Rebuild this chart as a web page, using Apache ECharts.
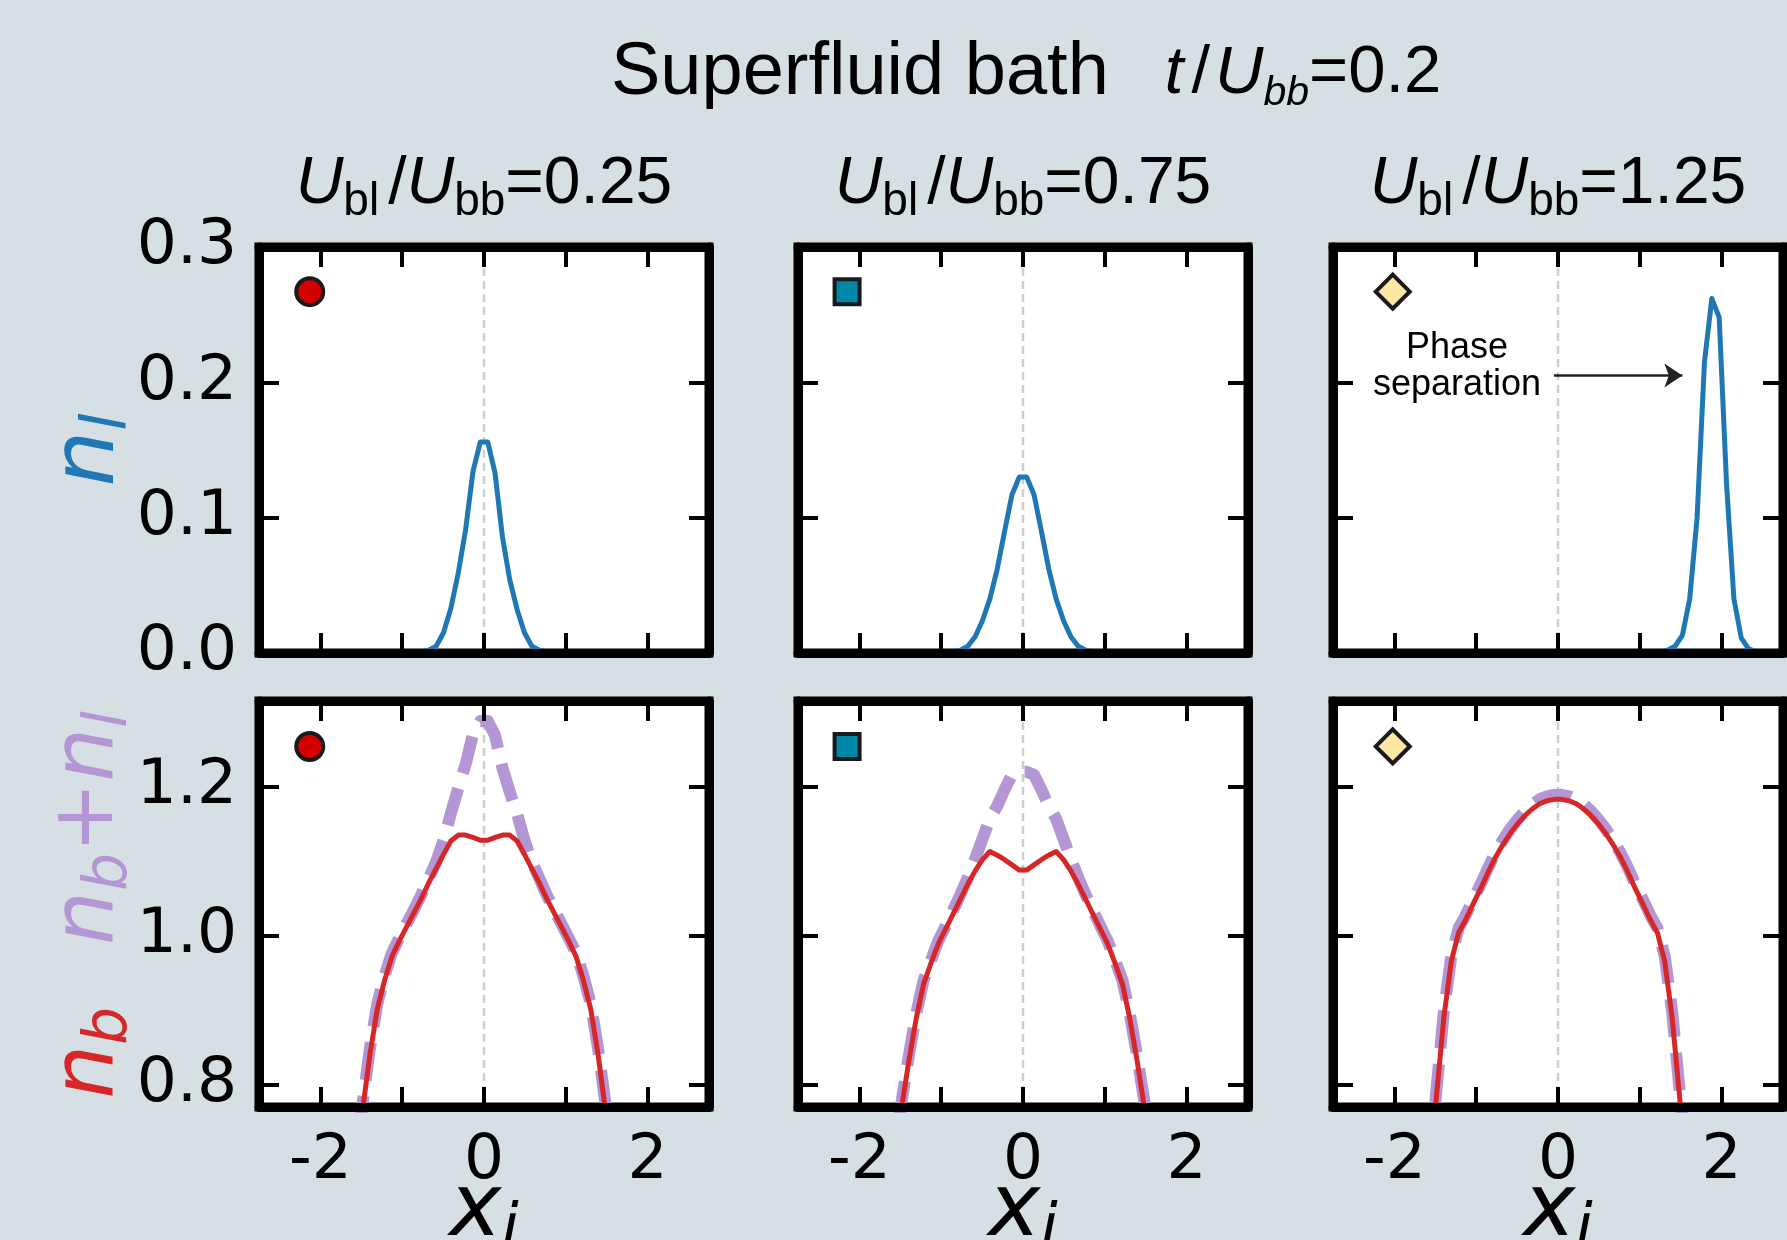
<!DOCTYPE html>
<html>
<head>
<meta charset="utf-8">
<script src="https://cdn.jsdelivr.net/npm/echarts@6.0.0/dist/echarts.min.js"></script>
<style>
  html, body { margin: 0; padding: 0; background: #d6dfe4; }
  #chart { width: 1787px; height: 1240px; }
</style>
</head>
<body>
<div id="chart"></div>
<script>
// lattice positions used for the density profiles
const xSites = [-1.665, -1.575, -1.485, -1.395, -1.305, -1.215, -1.125, -1.035, -0.945, -0.855,
  -0.765, -0.675, -0.585, -0.495, -0.405, -0.315, -0.225, -0.135, -0.045,
  0.045, 0.135, 0.225, 0.315, 0.405, 0.495, 0.585, 0.675, 0.765,
  0.855, 0.945, 1.035, 1.125, 1.215, 1.305, 1.395, 1.485, 1.575, 1.665];

// n_l (impurity density)
const nl025 = [0, 0, 0, 0, 0, 0, 0, 0, 0, 0,
  0.001, 0.002, 0.005, 0.015, 0.033, 0.059, 0.091, 0.134, 0.156,
  0.156, 0.133, 0.086, 0.054, 0.032, 0.015, 0.005, 0.002, 0.001,
  0, 0, 0, 0, 0, 0, 0, 0, 0, 0];
const nl075 = [0, 0, 0, 0, 0, 0, 0, 0, 0, 0.001,
  0.002, 0.005, 0.012, 0.024, 0.040, 0.062, 0.090, 0.117, 0.130,
  0.130, 0.117, 0.090, 0.062, 0.040, 0.024, 0.012, 0.005, 0.002,
  0.001, 0, 0, 0, 0, 0, 0, 0, 0, 0];
const x125 = [1.25, 1.34, 1.43, 1.52, 1.61, 1.70, 1.79, 1.88, 1.97, 2.06, 2.15, 2.24, 2.33, 2.42];
const nl125 = [0.001, 0.002, 0.005, 0.013, 0.040, 0.100, 0.215, 0.262, 0.248, 0.125, 0.040, 0.011, 0.003, 0.001];

// n_b (bath density)
const nb025 = [0.58, 0.68, 0.765, 0.840, 0.901, 0.940, 0.972, 0.993, 1.012, 1.031,
  1.050, 1.071, 1.090, 1.109, 1.127, 1.135, 1.135, 1.132, 1.128,
  1.128, 1.132, 1.135, 1.135, 1.127, 1.109, 1.090, 1.071, 1.050,
  1.031, 1.012, 0.993, 0.972, 0.940, 0.901, 0.840, 0.765, 0.68, 0.58];
const nb075 = [0.60, 0.69, 0.768, 0.832, 0.889, 0.935, 0.963, 0.989, 1.009, 1.029,
  1.049, 1.069, 1.087, 1.102, 1.113, 1.108, 1.102, 1.095, 1.088,
  1.088, 1.095, 1.102, 1.108, 1.113, 1.102, 1.087, 1.069, 1.049,
  1.029, 1.009, 0.989, 0.963, 0.935, 0.889, 0.832, 0.768, 0.69, 0.60];
const nb125 = [0.55, 0.67, 0.785, 0.890, 0.965, 1.004, 1.022, 1.043, 1.063, 1.085,
  1.105, 1.122, 1.137, 1.150, 1.161, 1.170, 1.177, 1.181, 1.183,
  1.183, 1.181, 1.177, 1.170, 1.161, 1.150, 1.137, 1.122, 1.105,
  1.085, 1.063, 1.043, 1.022, 1.004, 0.965, 0.890, 0.785, 0.67, 0.55];

// n_b + n_l (total density)
const ntot025 = [0.59, 0.69, 0.774, 0.848, 0.908, 0.946, 0.977, 0.997, 1.016, 1.035,
  1.055, 1.077, 1.099, 1.128, 1.164, 1.198, 1.230, 1.270, 1.288,
  1.288, 1.269, 1.225, 1.193, 1.163, 1.128, 1.099, 1.077, 1.055,
  1.035, 1.016, 0.997, 0.977, 0.946, 0.908, 0.848, 0.774, 0.69, 0.59];
const ntot075 = [0.61, 0.70, 0.776, 0.839, 0.895, 0.940, 0.967, 0.993, 1.013, 1.034,
  1.055, 1.078, 1.103, 1.130, 1.157, 1.174, 1.196, 1.216, 1.220,
  1.220, 1.216, 1.196, 1.174, 1.157, 1.130, 1.103, 1.078, 1.055,
  1.034, 1.013, 0.993, 0.967, 0.940, 0.895, 0.839, 0.776, 0.70, 0.61];
const ntot125 = [0.56, 0.68, 0.794, 0.898, 0.972, 1.010, 1.028, 1.049, 1.069, 1.091,
  1.111, 1.128, 1.143, 1.156, 1.167, 1.176, 1.183, 1.187, 1.189,
  1.189, 1.187, 1.183, 1.176, 1.167, 1.156, 1.143, 1.128, 1.111,
  1.091, 1.069, 1.049, 1.028, 1.010, 0.972, 0.898, 0.794, 0.68, 0.56];

const ratios = ['0.25', '0.75', '1.25'];
const xRange = [-2.75, 2.75];
const nlRange = [0, 0.3];
const nbRange = [0.77, 1.315];
const xTicks = [-2, -1, 0, 1, 2];
const xTickLabels = [-2, 0, 2];
const nlTicks = [0, 0.1, 0.2, 0.3];
const nbTicks = [0.8, 1.0, 1.2];
const markerX = [-2.13, -2.15, -2.02];
const markerYTop = 0.267;
const markerYBottom = 1.254;
const arrowFrom = [-0.05, 0.205];
const arrowTo = [1.52, 0.205];

const nlData = [[xSites, nl025], [xSites, nl075], [x125, nl125]];
const nbData = [nb025, nb075, nb125];
const ntotData = [ntot025, ntot075, ntot125];

const colLeft = [259, 798, 1333];
const rowTop = [247, 701];
const W = 450, H = 406;
const FRAME = 9;
const markerStyle = [
  { symbol: 'circle', size: 27, color: '#d40000' },
  { symbol: 'rect', size: 25, color: '#0088a8' },
  { symbol: 'diamond', size: 34, color: '#fde7a4' }
];

const pairs = (xs, ys) => xs.map((x, i) => [x, ys[i]]);

const grids = [], xAxes = [], yAxes = [], series = [];
for (let r = 0; r < 2; r++) {
  for (let c = 0; c < 3; c++) {
    const g = r * 3 + c;
    const yr = r === 0 ? nlRange : nbRange;
    grids.push({
      left: colLeft[c], top: rowTop[r], width: W, height: H,
      show: true, backgroundColor: '#fff', borderColor: '#000', borderWidth: FRAME,
      outerBoundsMode: 'none'
    });
    ['bottom', 'top'].forEach((pos, k) => {
      xAxes.push({
        type: 'value', gridIndex: g, position: pos, min: xRange[0], max: xRange[1], z: 5,
        axisLine: { show: true, onZero: false, lineStyle: { color: '#000', width: FRAME } },
        axisTick: { show: true, inside: true, length: 20, customValues: xTicks, lineStyle: { color: '#000', width: 4 } },
        axisLabel: {
          show: k === 0 && r === 1, customValues: xTickLabels,
          fontFamily: 'DejaVu Sans', fontSize: 63, color: '#000', margin: 23
        },
        splitLine: { show: false }
      });
    });
    ['left', 'right'].forEach((pos, k) => {
      yAxes.push({
        type: 'value', gridIndex: g, position: pos, min: yr[0], max: yr[1], z: 5,
        axisLine: { show: true, onZero: false, lineStyle: { color: '#000', width: FRAME } },
        axisTick: { show: true, inside: true, length: 20, customValues: r === 0 ? nlTicks : nbTicks, lineStyle: { color: '#000', width: 4 } },
        axisLabel: {
          show: k === 0 && c === 0, customValues: r === 0 ? nlTicks : nbTicks,
          formatter: v => v.toFixed(1),
          fontFamily: 'DejaVu Sans', fontSize: 63, color: '#000', margin: 22
        },
        splitLine: { show: false }
      });
    });

    // dashed guide at x = 0
    series.push({
      type: 'line', xAxisIndex: 2 * g, yAxisIndex: 2 * g, silent: true, z: 1,
      data: [[0, yr[0]], [0, yr[1]]], symbol: 'none',
      lineStyle: { color: '#cfcfcf', width: 2.5, type: [8, 5] }
    });

    if (r === 0) {
      const s = {
        type: 'line', xAxisIndex: 2 * g, yAxisIndex: 2 * g, symbol: 'none', z: 2,
        data: pairs(nlData[c][0], nlData[c][1]),
        lineStyle: { color: '#1f77b4', width: 5, join: 'round' }
      };
      if (c === 2) {
        s.markLine = {
          silent: true, symbol: ['none', 'arrow'], symbolSize: 18,
          itemStyle: { color: '#222' },
          lineStyle: { color: '#222', width: 2.5, type: 'solid' },
          label: { show: false },
          data: [[{ coord: arrowFrom }, { coord: arrowTo }]]
        };
      }
      series.push(s);
    } else {
      series.push({
        type: 'line', xAxisIndex: 2 * g, yAxisIndex: 2 * g, symbol: 'none', z: 2,
        data: pairs(xSites, ntotData[c]),
        lineStyle: { color: '#b396d3', width: 12, type: [38, 16], cap: 'butt', join: 'round' }
      });
      series.push({
        type: 'line', xAxisIndex: 2 * g, yAxisIndex: 2 * g, symbol: 'none', z: 3,
        data: pairs(xSites, nbData[c]),
        lineStyle: { color: '#d62728', width: 5, join: 'round' }
      });
    }

    series.push({
      type: 'scatter', xAxisIndex: 2 * g, yAxisIndex: 2 * g, z: 4, silent: true,
      symbol: markerStyle[c].symbol, symbolSize: markerStyle[c].size,
      itemStyle: { color: markerStyle[c].color, borderColor: '#1a1a1a', borderWidth: 4, opacity: 1 },
      data: [[markerX[c], r === 0 ? markerYTop : markerYBottom]]
    });
  }
}

const LS = 'Liberation Sans';
const DV = 'DejaVu Sans';
const graphics = [];

// main title
graphics.push({
  type: 'text', z: 10, x: 611, y: 74,
  style: {
    text: '{a|Superfluid bath}{sp| }{i|t}{sl|/}{i|U}{s|bb}{m|=0.2}',
    rich: {
      a: { fontFamily: LS, fontSize: 74, lineHeight: 80, verticalAlign: 'middle', fill: '#000' },
      sp: { fontFamily: LS, fontSize: 74, lineHeight: 80, width: 56 },
      i: { fontFamily: LS, fontStyle: 'italic', fontSize: 67, lineHeight: 80, verticalAlign: 'middle', fill: '#000' },
      sl: { fontFamily: LS, fontSize: 67, lineHeight: 80, verticalAlign: 'middle', fill: '#000', padding: [0, 5, 0, 8] },
      m: { fontFamily: LS, fontSize: 67, lineHeight: 80, verticalAlign: 'middle', fill: '#000' },
      s: { fontFamily: LS, fontStyle: 'italic', fontSize: 41, lineHeight: 36, verticalAlign: 'bottom', fill: '#000' }
    },
    align: 'left', verticalAlign: 'middle', textAlign: 'left', textVerticalAlign: 'middle'
  }
});

// panel titles
ratios.forEach((v, c) => {
  graphics.push({
    type: 'text', z: 10, x: colLeft[c] + W / 2, y: 185,
    style: {
      text: '{u|U}{s|bl}{g| }{m|/}{u|U}{s|bb}{m|=' + v + '}',
      rich: {
        u: { fontFamily: LS, fontStyle: 'italic', fontSize: 66, lineHeight: 80, verticalAlign: 'middle', fill: '#000' },
        m: { fontFamily: LS, fontSize: 66, lineHeight: 80, verticalAlign: 'middle', fill: '#000' },
        s: { fontFamily: LS, fontSize: 46, lineHeight: 39, verticalAlign: 'bottom', fill: '#000' },
        g: { fontFamily: LS, fontSize: 46, lineHeight: 39, width: 9 }
      },
      align: 'center', verticalAlign: 'middle', textAlign: 'center', textVerticalAlign: 'middle'
    }
  });
  // x axis names
  graphics.push({
    type: 'text', z: 10, x: colLeft[c] + W / 2, y: 1212,
    style: {
      text: '{x|x}{s|i}',
      rich: {
        x: { fontFamily: DV, fontStyle: 'italic', fontSize: 88, lineHeight: 100, verticalAlign: 'middle', fill: '#000' },
        s: { fontFamily: DV, fontStyle: 'italic', fontSize: 62, lineHeight: 46, verticalAlign: 'bottom', fill: '#000' }
      },
      align: 'center', verticalAlign: 'middle', textAlign: 'center', textVerticalAlign: 'middle'
    }
  });
});

// y axis names
graphics.push({
  type: 'text', z: 10, x: 90, y: 450, rotation: Math.PI / 2,
  style: {
    text: '{n|n}{s|l}',
    rich: {
      n: { fontFamily: DV, fontStyle: 'italic', fontSize: 88, lineHeight: 100, verticalAlign: 'middle', fill: '#1f77b4' },
      s: { fontFamily: DV, fontStyle: 'italic', fontSize: 62, lineHeight: 46, verticalAlign: 'bottom', fill: '#1f77b4' }
    },
    align: 'center', verticalAlign: 'middle', textAlign: 'center', textVerticalAlign: 'middle'
  }
});
graphics.push({
  type: 'text', z: 10, x: 90, y: 905, rotation: Math.PI / 2,
  style: {
    text: '{r|n}{rs|b}{g| }{p|n}{ps|b}{pp|+}{p|n}{ps|l}',
    rich: {
      r: { fontFamily: DV, fontStyle: 'italic', fontSize: 85, lineHeight: 100, verticalAlign: 'middle', fill: '#d62728' },
      rs: { fontFamily: DV, fontStyle: 'italic', fontSize: 60, lineHeight: 46, verticalAlign: 'bottom', fill: '#d62728' },
      g: { fontFamily: DV, fontSize: 60, lineHeight: 46, width: 62 },
      p: { fontFamily: DV, fontStyle: 'italic', fontSize: 85, lineHeight: 100, verticalAlign: 'middle', fill: '#b396d3' },
      ps: { fontFamily: DV, fontStyle: 'italic', fontSize: 60, lineHeight: 46, verticalAlign: 'bottom', fill: '#b396d3' },
      pp: { fontFamily: DV, fontSize: 85, lineHeight: 100, verticalAlign: 'middle', fill: '#b396d3' }
    },
    align: 'center', verticalAlign: 'middle', textAlign: 'center', textVerticalAlign: 'middle'
  }
});

// annotation
graphics.push({
  type: 'text', z: 10, x: 1457, y: 367,
  style: {
    text: 'Phase\nseparation', fontFamily: LS, fontSize: 36, lineHeight: 37, fill: '#000',
    align: 'center', verticalAlign: 'middle', textAlign: 'center', textVerticalAlign: 'middle'
  }
});

const chart = echarts.init(document.getElementById('chart'));
chart.setOption({
  backgroundColor: '#d6dfe4',
  animation: false,
  grid: grids,
  xAxis: xAxes,
  yAxis: yAxes,
  series: series,
  graphic: { elements: graphics }
});
</script>
</body>
</html>
